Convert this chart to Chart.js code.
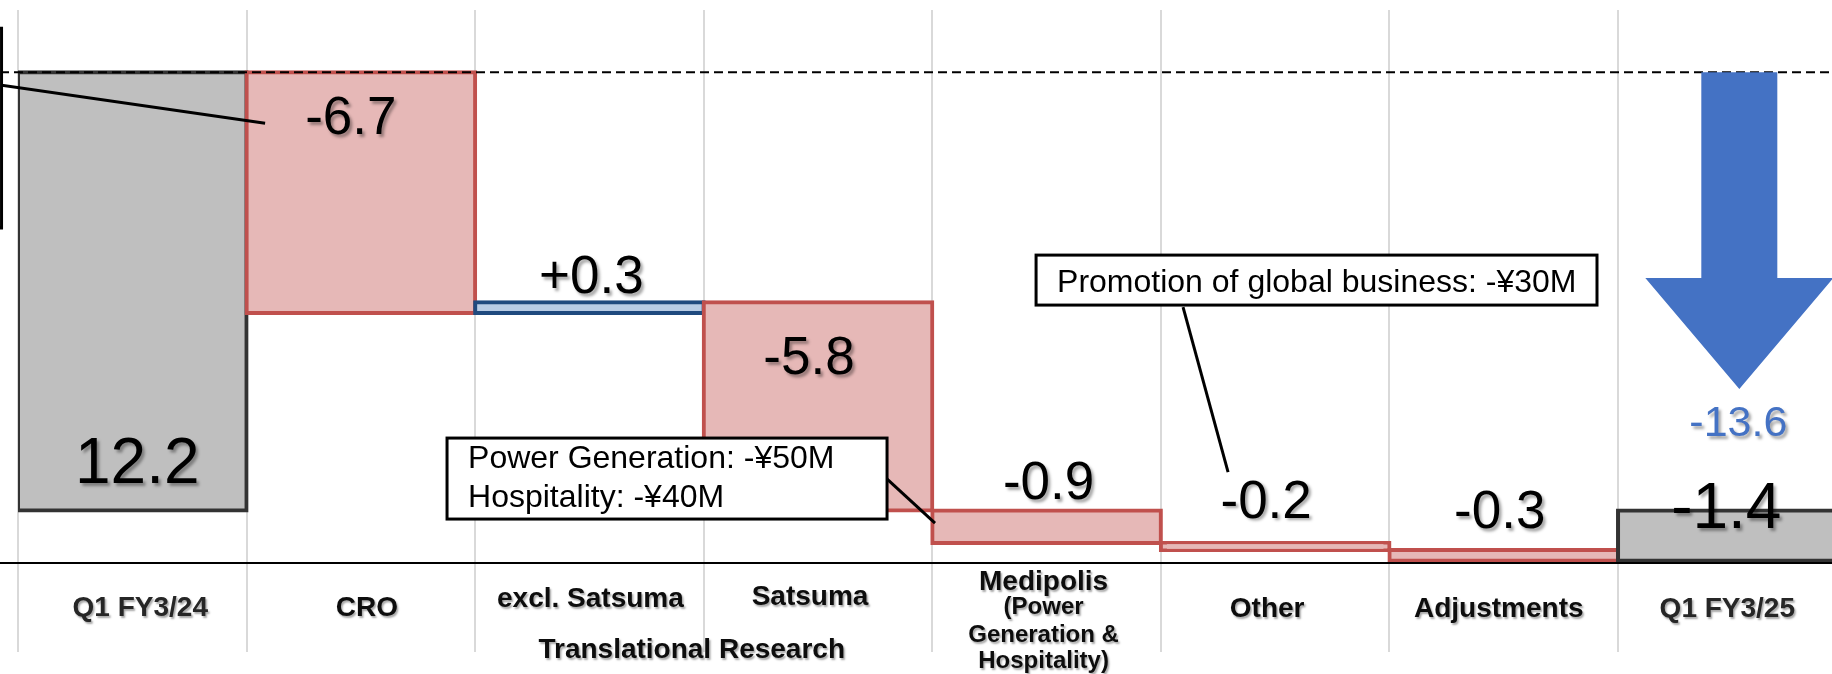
<!DOCTYPE html>
<html>
<head>
<meta charset="utf-8">
<script src="https://cdn.jsdelivr.net/npm/chart.js@4.4.1/dist/chart.umd.min.js"></script>
<style>
  html, body { margin: 0; padding: 0; overflow: hidden; background: #ffffff; }
  #wrap { width: 1850px; height: 674px; }
</style>
</head>
<body>
<div id="wrap"><canvas id="bridge" width="1850" height="674"></canvas></div>
<script>
// Operating income bridge: Q1 FY3/24 -> Q1 FY3/25 (¥100M)
const categories = [
  ['Q1 FY3/24'],
  ['CRO'],
  ['excl. Satsuma'],
  ['Satsuma'],
  ['Medipolis', '(Power', 'Generation &', 'Hospitality)'],
  ['Other'],
  ['Adjustments'],
  ['Q1 FY3/25']
];
const startValue = 12.2;
const changes = [-6.7, 0.3, -5.8, -0.9, -0.2, -0.3];
const endValue = -1.4;
const groupLabel = 'Translational Research';
const groupSpan = [2, 3];
const calloutTexts = [
  ['Power Generation: -¥50M', 'Hospitality: -¥40M'],
  ['Promotion of global business: -¥30M']
];

// ---- waterfall ranges built from the values above ----
const ranges = [[0, startValue]];
let level = startValue;
changes.forEach(d => {
  const next = Math.round((level + d) * 10) / 10;
  ranges.push([level, next]);
  level = next;
});
ranges.push([0, endValue]);

const fmt = v => v.toFixed(1);
const signed = v => (v > 0 ? '+' : '') + v.toFixed(1);
const valueTexts = [fmt(startValue), ...changes.map(signed), fmt(endValue)];
const totalChange = Math.round((endValue - startValue) * 10) / 10;

// ---- styling ----
const FONT = '"Liberation Sans", Arial, Helvetica, sans-serif';
const kinds = ['total', ...changes.map(d => d >= 0 ? 'up' : 'down'), 'total'];
const fills = { total: '#BFBFBF', up: '#B8CCE4', down: '#E6B8B7' };
const edges = { total: '#333333', up: '#1F4A7E', down: '#C0504D' };

// value label placement: anchor edge of the bar, baseline shift, x shift, size
const valueLabelStyle = [
  { edge: 'low', dy: -27.5, dx: 5, size: 64 },
  { edge: 'high', dy: 62, dx: -10, size: 53 },
  { edge: 'high', dy: -9, dx: 2, size: 53 },
  { edge: 'high', dy: 72, dx: -9, size: 53 },
  { edge: 'high', dy: -11.5, dx: 2, size: 53 },
  { edge: 'high', dy: -25, dx: -9, size: 53 },
  { edge: 'high', dy: -22, dx: -4, size: 53 },
  { edge: 'high', dy: 17.5, dx: -6, size: 64 }
];
// category label placement below the axis (baselines measured from the axis line)
const catLabelStyle = [
  { dx: 8, bases: [53], color: '#262626' },
  { dx: 6, bases: [53] },
  { dx: 1, bases: [44] },
  { dx: -8, bases: [42] },
  { dx: -3, bases: [27, 51, 79, 105] },
  { dx: -8, bases: [54] },
  { dx: -5, bases: [54] },
  { dx: -5, bases: [54], color: '#262626' }
];
const groupLabelStyle = { dx: -12, base: 95 };

// callouts in chart coordinates (category index, value)
const callouts = [
  { box: [1.377, 2.017, 3.302, -0.237], leader: [[3.293, 0.932], [3.512, -0.348]],
    text: calloutTexts[0], padX: 21, firstBase: 30, step: 39 },
  { box: [3.954, 7.109, 6.408, 5.718], leader: [[4.597, 5.662], [4.794, 1.071]],
    text: calloutTexts[1], padX: 21, firstBase: 37, step: 39 }
];
// edge of a callout box that sits just beyond the left border
const offCallout = { edgeX: -0.572, top: 13.425, bottom: 7.86, leader: [[-0.579, 11.84], [0.581, 10.78]] };
// change arrow over the last column
const arrowStyle = { index: 7, dx: 7, shaftHalf: 38, headHalf: 94, shoulder: 6.47, tip: 3.38, color: '#4472C4' };

const decor = {
  id: 'decor',
  afterDatasetsDraw(chart) {
    const { ctx, chartArea, scales: { x, y } } = chart;
    const W = chart.width;
    const X = i => x.getPixelForValue(i);
    const Y = v => y.getPixelForValue(v);
    ctx.save();

    // dashed reference line at the opening level
    ctx.strokeStyle = '#000';
    ctx.lineWidth = 2;
    ctx.setLineDash([9, 5]);
    ctx.beginPath();
    ctx.moveTo(0, Y(startValue));
    ctx.lineTo(W, Y(startValue));
    ctx.stroke();
    ctx.setLineDash([]);

    // change arrow
    const a = arrowStyle;
    const cx = X(a.index) + a.dx;
    ctx.fillStyle = a.color;
    ctx.beginPath();
    ctx.moveTo(cx - a.shaftHalf, Y(startValue));
    ctx.lineTo(cx + a.shaftHalf, Y(startValue));
    ctx.lineTo(cx + a.shaftHalf, Y(a.shoulder));
    ctx.lineTo(cx + a.headHalf, Y(a.shoulder));
    ctx.lineTo(cx, Y(a.tip));
    ctx.lineTo(cx - a.headHalf, Y(a.shoulder));
    ctx.lineTo(cx - a.shaftHalf, Y(a.shoulder));
    ctx.closePath();
    ctx.fill();

    // axis line
    ctx.strokeStyle = '#000';
    ctx.lineWidth = 2;
    ctx.beginPath();
    ctx.moveTo(0, chartArea.bottom);
    ctx.lineTo(W, chartArea.bottom);
    ctx.stroke();

    // callouts
    ctx.lineWidth = 3;
    ctx.lineCap = 'butt';
    const o = offCallout;
    ctx.beginPath();
    ctx.moveTo(X(o.leader[0][0]), Y(o.leader[0][1]));
    ctx.lineTo(X(o.leader[1][0]), Y(o.leader[1][1]));
    ctx.stroke();
    ctx.fillStyle = '#fff';
    ctx.beginPath();
    ctx.rect(X(o.edgeX) - 400, Y(o.top), 400, Y(o.bottom) - Y(o.top));
    ctx.fill();
    ctx.stroke();

    callouts.forEach(c => {
      ctx.strokeStyle = '#000';
      ctx.lineWidth = 3;
      ctx.beginPath();
      ctx.moveTo(X(c.leader[0][0]), Y(c.leader[0][1]));
      ctx.lineTo(X(c.leader[1][0]), Y(c.leader[1][1]));
      ctx.stroke();
      const bx = X(c.box[0]), by = Y(c.box[1]);
      const bw = X(c.box[2]) - bx, bh = Y(c.box[3]) - by;
      ctx.fillStyle = '#fff';
      ctx.fillRect(bx, by, bw, bh);
      ctx.strokeRect(bx, by, bw, bh);
      ctx.fillStyle = '#000';
      ctx.font = '32px ' + FONT;
      ctx.textAlign = 'left';
      ctx.textBaseline = 'alphabetic';
      c.text.forEach((line, k) => ctx.fillText(line, bx + c.padX, by + c.firstBase + k * c.step));
    });

    // value labels
    const meta = chart.getDatasetMeta(0);
    ctx.textAlign = 'center';
    ctx.textBaseline = 'alphabetic';
    ctx.shadowColor = 'rgba(0,0,0,0.35)';
    ctx.shadowOffsetX = 2.5;
    ctx.shadowOffsetY = 2.5;
    ctx.shadowBlur = 3;
    meta.data.forEach((bar, i) => {
      const s = valueLabelStyle[i];
      const r = ranges[i];
      const edgeVal = s.edge === 'high' ? Math.max(r[0], r[1]) : Math.min(r[0], r[1]);
      ctx.font = s.size + 'px ' + FONT;
      ctx.fillStyle = '#000';
      ctx.fillText(valueTexts[i], bar.x + s.dx, Y(edgeVal) + s.dy);
    });
    ctx.font = '43px ' + FONT;
    ctx.fillStyle = a.color;
    ctx.fillText(fmt(totalChange), cx - 1, Y(a.tip) + 47);

    // category labels
    ctx.shadowOffsetX = 1.5;
    ctx.shadowOffsetY = 1.5;
    ctx.shadowBlur = 2;
    const axisY = chartArea.bottom;
    categories.forEach((lines, i) => {
      const s = catLabelStyle[i];
      ctx.fillStyle = s.color || '#0d0d0d';
      lines.forEach((line, k) => {
        ctx.font = 'bold ' + (k === 0 ? 28 : 24) + 'px ' + FONT;
        ctx.fillText(line, X(i) + s.dx, axisY + s.bases[k]);
      });
    });
    ctx.fillStyle = '#0d0d0d';
    ctx.font = 'bold 28px ' + FONT;
    ctx.fillText(groupLabel, (X(groupSpan[0]) + X(groupSpan[1])) / 2 + groupLabelStyle.dx, axisY + groupLabelStyle.base);

    ctx.restore();
  }
};

new Chart(document.getElementById('bridge'), {
  type: 'bar',
  data: {
    labels: categories.map(l => l.join(' ')),
    datasets: [{
      data: ranges,
      backgroundColor: kinds.map(k => fills[k]),
      borderColor: kinds.map(k => edges[k]),
      borderWidth: 4,
      borderSkipped: false,
      inflateAmount: 2,
      barPercentage: 1,
      categoryPercentage: 1
    }]
  },
  options: {
    responsive: false,
    animation: false,
    events: [],
    layout: { padding: { left: 18, right: 3.4, top: 10, bottom: 0 } },
    plugins: { legend: { display: false }, tooltip: { enabled: false } },
    scales: {
      x: {
        type: 'category',
        offset: true,
        grid: {
          offset: true,
          color: '#D9D9D9',
          lineWidth: 2,
          drawTicks: true,
          tickLength: 89,
          tickColor: '#D9D9D9',
          tickWidth: 2
        },
        border: { display: false },
        ticks: { display: false },
        afterFit(scale) { scale.height = 111; }
      },
      y: {
        display: false,
        min: -1.46,
        max: 13.93
      }
    }
  },
  plugins: [decor]
});
</script>
</body>
</html>
